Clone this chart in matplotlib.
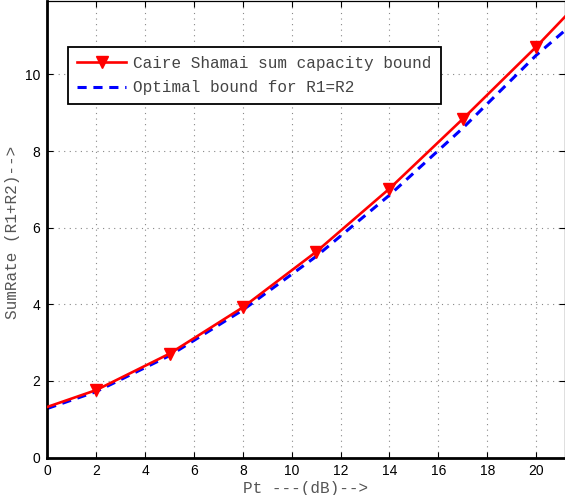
import matplotlib
matplotlib.use("Agg")
import matplotlib.pyplot as plt

# Potência total (dB) e as duas curvas
pt_db = [0, 2, 5, 8, 11, 14, 17, 20, 21.2]
caire_shamai = [1.32, 1.76, 2.71, 3.92, 5.37, 7.02, 8.84, 10.72, 11.52]
optimal_r1r2 = [1.28, 1.72, 2.66, 3.85, 5.25, 6.85, 8.60, 10.50, 11.16]

x_ticks = [0, 2, 4, 6, 8, 10, 12, 14, 16, 18, 20]
y_ticks = [0, 2, 4, 6, 8, 10]

fig = plt.figure(figsize=(5.65, 4.95), dpi=100)
ax = fig.add_axes([47.3 / 565, (495 - 457.5) / 495, (564.5 - 47.3) / 565, (457.5 - 1.3) / 495])

ax.plot(pt_db, caire_shamai, color="#ff0000", lw=1.9, marker="v", ms=9,
        markevery=slice(1, 8), label="Caire Shamai sum capacity bound", zorder=3)
ax.plot(pt_db, optimal_r1r2, color="#0000ff", lw=2.2, dashes=(3, 2.2),
        label="Optimal bound for R1=R2", zorder=2)

ax.set_xlim(0, 21.16)
ax.set_ylim(0, 11.91)
ax.set_xticks(x_ticks)
ax.set_yticks(y_ticks)
ax.tick_params(direction="in", length=4, top=True, right=True, labelsize=10, pad=5)
for lab in ax.get_xticklabels() + ax.get_yticklabels():
    lab.set_family("Liberation Sans")

ax.grid(True, linestyle=(0, (1, 4)), color="#888888", lw=0.8)
for s in ["left", "bottom"]:
    ax.spines[s].set_linewidth(2.0)
for s in ["top", "right"]:
    ax.spines[s].set_linewidth(0.9)

ax.set_xlabel("Pt ---(dB)-->", family="Liberation Mono", fontsize=11.5,
              color="#555555", labelpad=2)
ax.set_ylabel("SumRate (R1+R2)-->", family="Liberation Mono", fontsize=11.5,
              color="#555555")
ax.yaxis.set_label_coords(-0.052, 0.493)

leg = ax.legend(loc="upper left", bbox_to_anchor=(0.04, 0.9), borderaxespad=0,
                prop={"family": "Liberation Mono", "size": 11.5},
                handlelength=3.1, handletextpad=0.45, labelspacing=0.6,
                borderpad=0.55, fancybox=False, framealpha=1)
leg.get_frame().set_edgecolor("black")
leg.get_frame().set_linewidth(1.3)
for t in leg.get_texts():
    t.set_color("#444444")

plt.savefig("out.png", dpi=100)
